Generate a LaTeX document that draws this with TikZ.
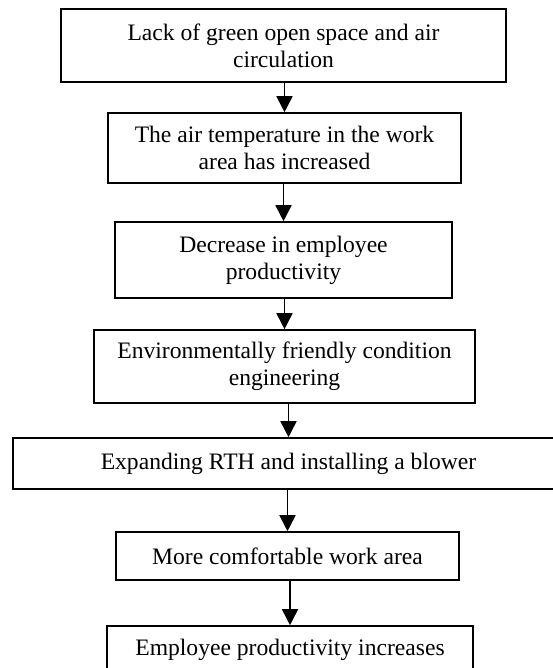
\documentclass[tikz,border=0pt]{standalone}
\usepackage{fontspec}
\setmainfont{Liberation Serif}
\usetikzlibrary{shapes,arrows.meta}
\tikzstyle{process} = [rectangle, text centered, align=center, draw=black, line width=1.6pt, inner sep=2pt, font=\fontsize{23.6pt}{27pt}\selectfont]
\tikzstyle{arrow} = [line width=1.7pt, -{Triangle[width=16pt,length=16pt]}]

\begin{document}
\begin{tikzpicture}[node distance=100pt]
    \useasboundingbox (0,0) rectangle (552pt,-668pt);
    \node (lack) [process, minimum width=445pt, minimum height=73pt] at (283.5pt,-45.5pt) {Lack of green open space and air\\ circulation};
    \node (temp) [process, below of=lack, yshift=-2.5pt, xshift=1pt, minimum width=353pt, minimum height=70pt] {The air temperature in the work\\ area has increased};
    \node (decr) [process, below of=temp, yshift=-12pt, xshift=-1pt, minimum width=337pt, minimum height=76pt] {Decrease in employee\\ productivity};
    \node (eng) [process, below of=decr, yshift=-6.5pt, xshift=1pt, minimum width=381pt, minimum height=73pt] {Environmentally friendly condition\\ engineering};
    \node (rth) [process, below of=eng, yshift=3pt, xshift=4pt, minimum width=551pt, minimum height=51pt] {Expanding RTH and installing a blower};
    \node (comf) [process, below of=rth, yshift=7.5pt, xshift=-1pt, minimum width=343pt, minimum height=48pt] {More comfortable work area};
    \node (incr) [process, below of=comf, yshift=6pt, xshift=2.5pt, minimum width=366pt, minimum height=48pt] {Employee productivity increases};

    \draw [arrow] (lack.south -| temp) -- (temp);
    \draw [arrow] (temp.south -| decr) -- (decr);
    \draw [arrow] (decr.south -| eng) -- (eng);
    \draw [arrow] (eng.south -| rth) -- (rth);
    \draw [arrow] (rth.south -| comf) -- (comf);
    \draw [arrow] (comf.south -| incr) -- (incr);
\end{tikzpicture}
\end{document}
